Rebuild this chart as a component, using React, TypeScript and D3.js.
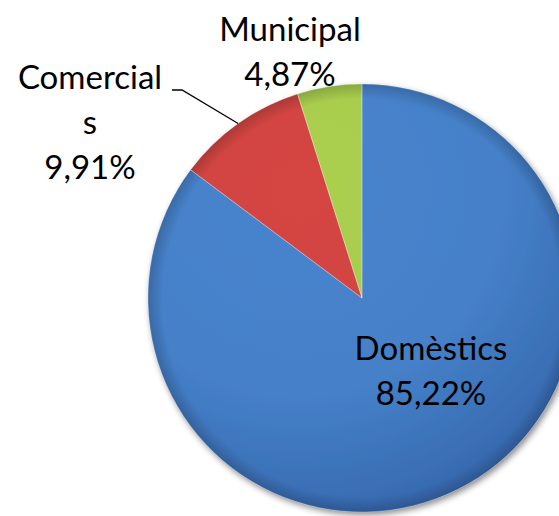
import React from "react";
import * as d3 from "d3";

const categories = ["Domèstics", "Comercials", "Municipal"];
const values = [85.22, 9.91, 4.87];
const labelLines = [["Domèstics", "85,22%"], ["Comercial", "s", "9,91%"], ["Municipal", "4,87%"]];
const colors = ["#4580c8", "#cf4341", "#a6ca4c"];
const darkColors = ["#3668ae", "#b33836", "#8fb03e"];

const W = 559, H = 516;
const cx = 362, cy = 298, R = 214;
const labelPos = [
  { x: 431, y: 360 },
  { x: 90, y: 89 },
  { x: 290, y: 41 },
];
const lineGap = 45;

export default function App() {
  const pie = d3.pie<number>().sort(null).value((d) => d)(values);
  const arc = d3.arc<d3.PieArcDatum<number>>().innerRadius(0).outerRadius(R);
  const edgeArc = d3.arc<d3.PieArcDatum<number>>().innerRadius(R).outerRadius(R);
  const redEdge = edgeArc.centroid(pie[1]);
  return (
    <svg width={W} height={H} style={{ position: "absolute", left: 0, top: 0 }}>
      <defs>
        <filter id="sh" x="-20%" y="-20%" width="140%" height="140%">
          <feDropShadow dx="2" dy="3" stdDeviation="3" floodColor="#000" floodOpacity="0.45" />
        </filter>
        {colors.map((c, i) => (
          <radialGradient key={i} id={"g" + i} cx={-R * 0.3} cy={-R * 0.5} r={R * 1.6} gradientUnits="userSpaceOnUse">
            <stop offset="0" stopColor={d3.color(c)!.brighter(0.08).formatHex()} />
            <stop offset="0.6" stopColor={c} />
            <stop offset="1" stopColor={darkColors[i]} />
          </radialGradient>
        ))}
        <radialGradient id="rim" cx={0} cy={0} r={R} gradientUnits="userSpaceOnUse">
          <stop offset="0.93" stopColor="#000" stopOpacity="0" />
          <stop offset="1" stopColor="#000" stopOpacity="0.18" />
        </radialGradient>
      </defs>
      <rect width={W} height={H} fill="#fff" />
      <g transform={`translate(${cx},${cy})`} filter="url(#sh)">
        {pie.map((d, i) => (
          <path key={categories[i]} d={arc(d)!} fill={`url(#g${i})`} />
        ))}
      </g>
      <g transform={`translate(${cx},${cy})`}>
        {pie.map((d, i) => (
          <path key={"r" + i} d={arc(d)!} fill="url(#rim)" />
        ))}
        {pie.map((d, i) => (
          <path key={"e" + i} d={arc(d)!} fill="none" stroke="rgba(255,255,255,0.25)" strokeWidth={1} />
        ))}
      </g>
      <polyline
        points={`172,90 182,90 ${cx + redEdge[0]},${cy + redEdge[1]}`}
        fill="none"
        stroke="#000"
        strokeWidth={1.3}
      />
      {labelLines.map((lines, i) => (
        <text key={"l" + i} textAnchor="middle" fontFamily="Lato, 'Open Sans', sans-serif" fontSize={33} fill="#000">
          {lines.map((t, j) => (
            <tspan key={j} x={labelPos[i].x} y={labelPos[i].y + j * lineGap}>{t}</tspan>
          ))}
        </text>
      ))}
    </svg>
  );
}
